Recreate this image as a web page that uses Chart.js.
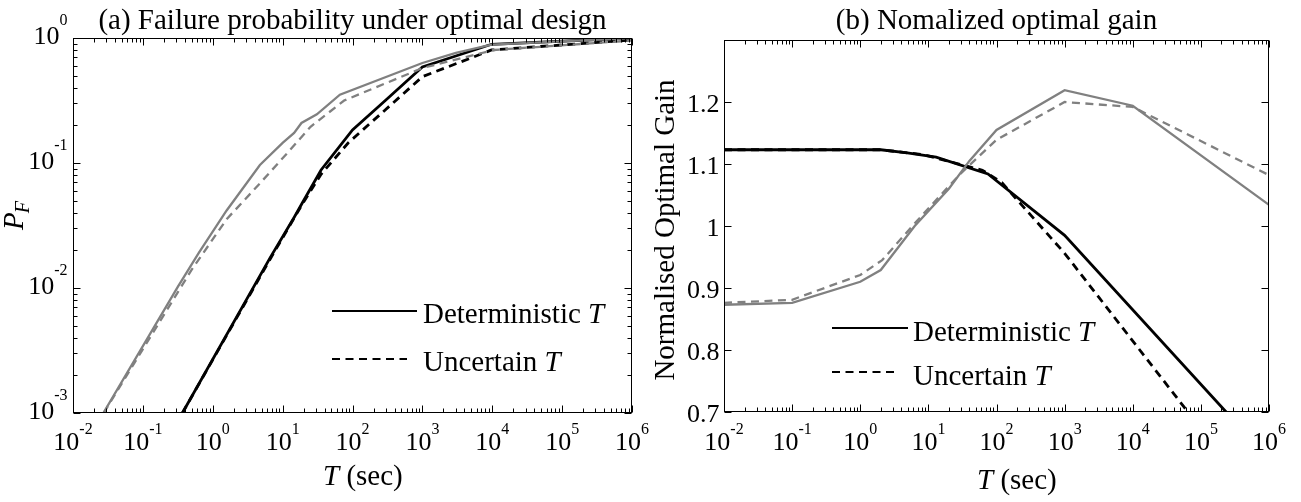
<!DOCTYPE html>
<html>
<head>
<meta charset="utf-8">
<script src="https://cdn.jsdelivr.net/npm/chart.js@4.4.1/dist/chart.umd.min.js"></script>
<style>
  body { margin: 0; background: #fff; width: 1301px; height: 502px; overflow: hidden; position: relative; }
  canvas { position: absolute; top: 0; }
  #pfChart { left: 0; }
  #gainChart { left: 650px; }
</style>
</head>
<body>
<canvas id="pfChart" width="650" height="502"></canvas>
<canvas id="gainChart" width="651" height="502"></canvas>
<script>
// ---- (a) failure probability P_F against period T (sec) ----
// black curves
const pfBlackSolidT = [0.368, 6.61, 14.8, 19.1, 35.5, 100, 295, 1000, 9770, 1e6];
const pfBlackSolid  = [0.001, 0.0174, 0.0372, 0.0479, 0.0879, 0.184, 0.316, 0.586, 0.891, 1.0];
const pfBlackDashT  = [0.368, 6.61, 19.1, 35.5, 87.1, 1000, 9770, 1e6];
const pfBlackDash   = [0.001, 0.017, 0.0468, 0.0813, 0.145, 0.49, 0.802, 0.964];
// grey curves
const pfGreySolidT  = [0.0272, 0.316, 0.631, 1.58, 4.73, 10, 14.6, 18.6, 30.9, 66, 1000, 3020, 9770, 1e6];
const pfGreySolid   = [0.001, 0.0102, 0.0191, 0.0417, 0.0964, 0.145, 0.174, 0.209, 0.245, 0.352, 0.631, 0.759, 0.885, 1.0];
const pfGreyDashT   = [0.0275, 0.495, 1.58, 4.73, 12.6, 25.1, 75.9, 1000, 10500, 1e6];
const pfGreyDash    = [0.001, 0.0139, 0.0355, 0.0687, 0.126, 0.195, 0.316, 0.575, 0.802, 0.955];

// ---- (b) normalised optimal gain against period T (sec) ----
const gainBlackSolidT = [0.01, 2, 4.9, 13, 75, 1000, 235000];
const gainBlackSolid  = [1.123, 1.123, 1.118, 1.111, 1.084, 0.985, 0.70];
const gainBlackDashT  = [0.01, 2, 8.5, 62, 120, 1000, 64600];
const gainBlackDash   = [1.123, 1.123, 1.115, 1.09, 1.07, 0.956, 0.70];
const gainGreySolidT  = [0.01, 0.1, 1, 2, 6.3, 20, 40, 100, 1000, 10000, 1e6];
const gainGreySolid   = [0.873, 0.876, 0.91, 0.929, 1.0, 1.06, 1.105, 1.155, 1.219, 1.194, 1.034];
const gainGreyDashT   = [0.01, 0.1, 1, 2.1, 5.6, 13, 30, 100, 1000, 10000, 1e6];
const gainGreyDash    = [0.876, 0.881, 0.921, 0.945, 0.998, 1.042, 1.085, 1.139, 1.2, 1.192, 1.082];

// axis ticks
const xDecades   = [-2, -1, 0, 1, 2, 3, 4, 5, 6];
const pfDecades  = [-3, -2, -1, 0];
const gainTicks  = [0.7, 0.8, 0.9, 1.0, 1.1, 1.2];
const gainLabels = ['0.7', '0.8', '0.9', '1', '1.1', '1.2'];

const GREY = 'rgb(128,128,128)';
const SERIF = '"Liberation Serif", "Times New Roman", serif';
const tickFont = '26px ' + SERIF;
const expFont = '16px ' + SERIF;
const textFont = '29px ' + SERIF;
const italicFont = 'italic 29px ' + SERIF;
const DASH = [8, 5.5];

function points(xs, ys) {
    return xs.map((x, i) => ({ x: x, y: ys[i] }));
}

function curve(xs, ys, color, dashed) {
    return {
        data: points(xs, ys),
        borderColor: color,
        borderWidth: color === GREY ? 2.3 : 2.8,
        borderDash: dashed ? DASH : [],
        pointRadius: 0,
        showLine: true,
        fill: false,
        tension: 0
    };
}

// every major and minor tick of a log range
function logTicks(min, max) {
    const out = [];
    for (let d = Math.floor(Math.log10(min)); d <= Math.ceil(Math.log10(max)); d++) {
        for (let k = 1; k <= 9; k++) {
            const v = k * Math.pow(10, d);
            if (v >= min * 0.999 && v <= max * 1.001) out.push({ v: v, major: k === 1 });
        }
    }
    return out;
}

// "10" with a raised exponent
function drawPower(ctx, exp, x, base, rise, align) {
    ctx.font = tickFont;
    const wb = ctx.measureText('10').width;
    ctx.font = expFont;
    const we = ctx.measureText(exp).width;
    const x0 = align === 'center' ? x - (wb + we) / 2 : x - wb - we;
    ctx.textAlign = 'left';
    ctx.font = tickFont;
    ctx.fillText('10', x0, base);
    ctx.font = expFont;
    ctx.fillText(exp, x0 + wb, base - rise);
}

// plain text followed by an italic T
function drawWithT(ctx, text, x, base) {
    ctx.textAlign = 'left';
    ctx.font = textFont;
    ctx.fillText(text, x, base);
    const w = ctx.measureText(text).width;
    ctx.font = italicFont;
    ctx.fillText('T', x + w, base);
}

// box, inward ticks, tick labels, title, x label and legend
const frame = {
    id: 'frame',
    afterDraw(chart, args, o) {
        const ctx = chart.ctx;
        const a = chart.chartArea;
        const xs = chart.scales.x, ys = chart.scales.y;
        const L = Math.round(a.left) + 0.5, R = Math.round(a.right) - 0.5;
        const T = Math.round(a.top) + 0.5, B = Math.round(a.bottom) - 0.5;

        ctx.save();
        ctx.strokeStyle = '#000';
        ctx.fillStyle = '#000';
        ctx.lineWidth = 1;
        ctx.setLineDash([]);
        ctx.strokeRect(L, T, R - L, B - T);

        ctx.beginPath();
        for (const t of logTicks(xs.min, xs.max)) {
            const px = Math.round(xs.getPixelForValue(t.v)) + 0.5;
            const len = t.major ? 7 : 4;
            ctx.moveTo(px, B); ctx.lineTo(px, B - len);
            ctx.moveTo(px, T); ctx.lineTo(px, T + len);
        }
        const yt = o.yLog ? logTicks(ys.min, ys.max) : gainTicks.map(v => ({ v: v, major: true }));
        for (const t of yt) {
            const py = Math.round(ys.getPixelForValue(t.v)) + 0.5;
            const len = t.major ? 7 : 4;
            ctx.moveTo(L, py); ctx.lineTo(L + len, py);
            ctx.moveTo(R, py); ctx.lineTo(R - len, py);
        }
        ctx.stroke();

        // tick labels
        ctx.textBaseline = 'alphabetic';
        xDecades.forEach(d => {
            drawPower(ctx, String(d), xs.getPixelForValue(Math.pow(10, d)), o.xTickBase, 16, 'center');
        });
        if (o.yLog) {
            pfDecades.forEach(d => {
                drawPower(ctx, String(d), L - 6, ys.getPixelForValue(Math.pow(10, d)) + 6, 19, 'right');
            });
        } else {
            ctx.font = tickFont;
            ctx.textAlign = 'right';
            gainTicks.forEach((v, i) => {
                ctx.fillText(gainLabels[i], L - 5, ys.getPixelForValue(v) + 9.5);
            });
        }

        // title
        ctx.font = textFont;
        ctx.textAlign = 'center';
        ctx.fillText(o.title, (a.left + a.right) / 2, 29);

        // x axis label: italic T then (sec)
        ctx.textAlign = 'left';
        ctx.font = italicFont;
        ctx.fillText('T', o.xLabelX, o.xLabelBase);
        const wT = ctx.measureText('T').width;
        ctx.font = textFont;
        ctx.fillText(' (sec)', o.xLabelX + wT, o.xLabelBase);

        // legend
        const g = o.legend;
        ctx.strokeStyle = '#000';
        ctx.lineWidth = 2;
        ctx.beginPath();
        ctx.moveTo(g.x0, g.y1); ctx.lineTo(g.x1, g.y1);
        ctx.stroke();
        ctx.setLineDash(DASH);
        ctx.beginPath();
        ctx.moveTo(g.x0, g.y2); ctx.lineTo(g.x1 - 10, g.y2);
        ctx.stroke();
        ctx.setLineDash([]);
        drawWithT(ctx, 'Deterministic ', g.tx, g.y1 + g.dy);
        drawWithT(ctx, 'Uncertain ', g.tx, g.y2 + g.dy);
        ctx.restore();
    }
};

function baseOptions(yScale, frameOpts, padding) {
    return {
        responsive: false,
        animation: false,
        events: [],
        layout: { padding: padding },
        scales: {
            x: { type: 'logarithmic', min: 0.01, max: 1e6, display: false },
            y: Object.assign({ display: false }, yScale)
        },
        plugins: {
            legend: { display: false },
            tooltip: { enabled: false },
            frame: frameOpts
        }
    };
}

// rotated y label P_F
const pfYLabel = {
    id: 'pfYLabel',
    afterDraw(chart) {
        const ctx = chart.ctx;
        ctx.save();
        ctx.translate(23, 230);
        ctx.rotate(-Math.PI / 2);
        ctx.fillStyle = '#000';
        ctx.textAlign = 'left';
        ctx.textBaseline = 'alphabetic';
        ctx.font = italicFont;
        ctx.fillText('P', 0, 0);
        const w = ctx.measureText('P').width;
        ctx.font = 'italic 20px ' + SERIF;
        ctx.fillText('F', w - 1, 6);
        ctx.restore();
    }
};

// rotated y label for the gain panel
const gainYLabel = {
    id: 'gainYLabel',
    afterDraw(chart) {
        const ctx = chart.ctx;
        ctx.save();
        ctx.translate(24, 230);
        ctx.rotate(-Math.PI / 2);
        ctx.fillStyle = '#000';
        ctx.textAlign = 'center';
        ctx.textBaseline = 'alphabetic';
        ctx.font = textFont;
        ctx.fillText('Normalised Optimal Gain', 0, 0);
        ctx.restore();
    }
};

new Chart(document.getElementById('pfChart'), {
    type: 'scatter',
    data: {
        datasets: [
            curve(pfGreyDashT, pfGreyDash, GREY, true),
            curve(pfGreySolidT, pfGreySolid, GREY, false),
            curve(pfBlackDashT, pfBlackDash, '#000', true),
            curve(pfBlackSolidT, pfBlackSolid, '#000', false)
        ]
    },
    options: baseOptions(
        { type: 'logarithmic', min: 0.001, max: 1 },
        {
            yLog: true,
            title: '(a) Failure probability under optimal design',
            xTickBase: 450,
            xLabelX: 323, xLabelBase: 485,
            legend: { x0: 332, x1: 417, y1: 311, y2: 359, tx: 423, dy: 12 }
        },
        { left: 73, right: 18, top: 38, bottom: 89 }
    ),
    plugins: [frame, pfYLabel]
});

new Chart(document.getElementById('gainChart'), {
    type: 'scatter',
    data: {
        datasets: [
            curve(gainGreyDashT, gainGreyDash, GREY, true),
            curve(gainGreySolidT, gainGreySolid, GREY, false),
            curve(gainBlackDashT, gainBlackDash, '#000', true),
            curve(gainBlackSolidT, gainBlackSolid, '#000', false)
        ]
    },
    options: baseOptions(
        { type: 'linear', min: 0.7, max: 1.3 },
        {
            yLog: false,
            title: '(b) Nomalized optimal gain',
            xTickBase: 450,
            xLabelX: 327, xLabelBase: 489,
            legend: { x0: 182, x1: 258, y1: 328, y2: 372, tx: 263, dy: 13 }
        },
        { left: 74, right: 32, top: 40, bottom: 90 }
    ),
    plugins: [frame, gainYLabel]
});
</script>
</body>
</html>
